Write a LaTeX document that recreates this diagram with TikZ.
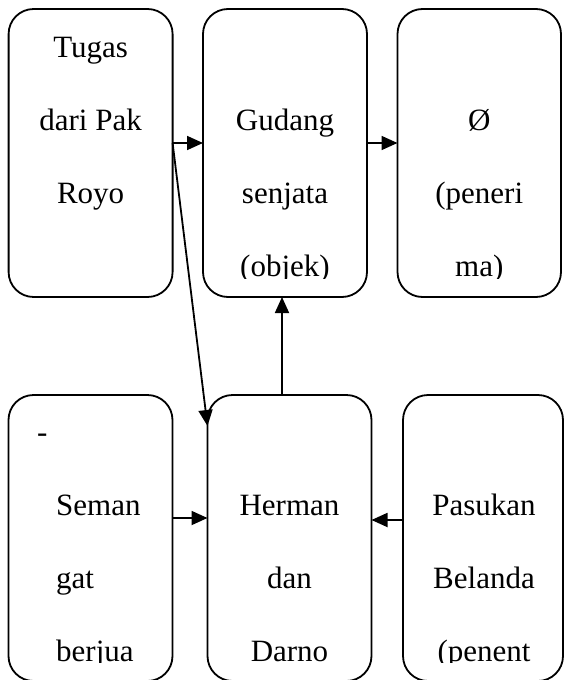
\documentclass[tikz,border=0pt]{standalone}
\usepackage{fontspec}
\setmainfont{Liberation Serif}
\usetikzlibrary{arrows.meta}
\begin{document}
\begin{tikzpicture}[x=1pt,y=-1pt,
  box/.style={draw, line width=1.8pt, rounded corners=25pt, minimum width=164pt, minimum height=288pt, inner sep=0pt, outer sep=0pt},
  lbl/.style={font=\fontsize{31}{73}\selectfont, inner sep=0pt, anchor=base},
  lbll/.style={lbl, anchor=base west},
  arr/.style={line width=1.8pt, -{Triangle[length=16pt,width=14pt]}}]
\path[use as bounding box] (0,0) rectangle (564,680);
% boxes
\node[box] (t1) at (90.6,153) {};
\node[box] (t2) at (285,153) {};
\node[box, minimum width=163.5pt] (t3) at (479.25,153) {};
\node[box, minimum height=286pt] (b1) at (90.5,538) {};
\node[box, minimum height=286pt] (b2) at (289.5,538) {};
\node[box, minimum height=286pt, minimum width=160pt] (b3) at (483,538) {};
% top row texts
\begin{scope}
\clip (0,0) rectangle (564,278);
\node[lbl] (t1a) at (90.6,57) {Tugas};
\node[lbl] (t1b) at (90.6,130) {dari Pak};
\node[lbl] (t1c) at (90.6,203) {Royo};
\node[lbl] (t2a) at (285,130) {Gudang};
\node[lbl] (t2b) at (285,203) {senjata};
\node[lbl] (t2c) at (285,276) {(objek)};
\node[lbl] (t3a) at (479.25,130) {Ø};
\node[lbl] (t3b) at (479.25,203) {(peneri};
\node[lbl] (t3c) at (479.25,276) {ma)};
\end{scope}
% bottom row texts
\begin{scope}
\clip (0,380) rectangle (564,662);
\node[lbll] (b1a) at (37,442) {-};
\node[lbll] (b1b) at (56,515) {Seman};
\node[lbll] (b1c) at (56,588) {gat};
\node[lbll] (b1d) at (56,661) {berjua};
\node[lbl] (b2a) at (289.5,515) {Herman};
\node[lbl] (b2b) at (289.5,588) {dan};
\node[lbl] (b2c) at (289.5,661) {Darno};
\node[lbl] (b3a) at (484,515) {Pasukan};
\node[lbl] (b3b) at (484,588) {Belanda};
\node[lbl] (b3c) at (484,661) {(penent};
\end{scope}
% connectors
\draw[arr] ([yshift=10pt]t1.east) -- ([yshift=10pt]t2.west);
\draw[arr] ([yshift=10pt]t2.east) -- ([yshift=10pt]t3.west);
\draw[arr] ([yshift=10pt]t1.east) -- ([yshift=-31pt]b2.north west);
\draw[arr] ([xshift=-7.5pt]b2.north) -- ([xshift=-3pt]t2.south);
\draw[arr] ([yshift=20pt]b1.east) -- ([yshift=20pt]b2.west);
\draw[arr] ([yshift=18pt]b3.west) -- ([yshift=18pt]b2.east);
\end{tikzpicture}
\end{document}
